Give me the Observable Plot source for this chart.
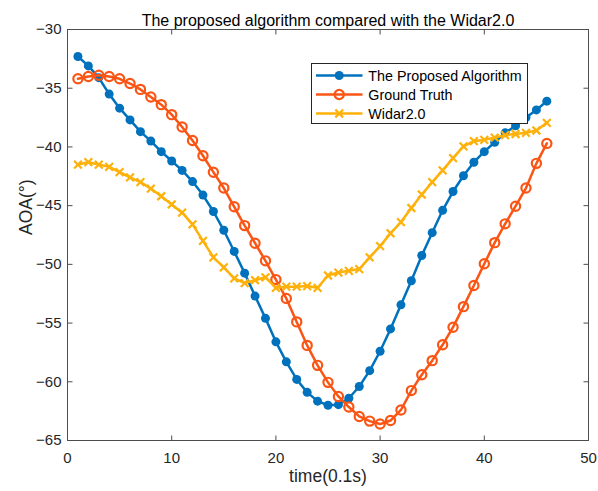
<!DOCTYPE html>
<html>
<head>
<meta charset="utf-8">
<script src="https://cdn.jsdelivr.net/npm/d3@7"></script>
<script src="https://cdn.jsdelivr.net/npm/@observablehq/plot@0.6"></script>
<style>
  body { margin: 0; background: #fff; }
  #chart { position: relative; width: 598px; height: 491px; }
</style>
</head>
<body>
<div id="chart"></div>
<script>
// Sample index (units of 0.1 s)
const time = [1, 2, 3, 4, 5, 6, 7, 8, 9, 10, 11, 12, 13, 14, 15, 16, 17, 18, 19, 20, 21, 22, 23,
              24, 25, 26, 27, 28, 29, 30, 31, 32, 33, 34, 35, 36, 37, 38, 39, 40, 41, 42, 43, 44, 45, 46];

// AOA estimates in degrees
const proposed = [-32.3, -33.1, -34.1, -35.5, -36.7, -37.7, -38.7, -39.5, -40.4, -41.2, -42.0, -42.95,
                  -44.1, -45.5, -47.1, -48.9, -50.75, -52.7, -54.6, -56.6, -58.3, -59.8, -60.9, -61.65,
                  -62.0, -61.95, -61.4, -60.4, -59.05, -57.4, -55.5, -53.45, -51.4, -49.25, -47.3, -45.4,
                  -43.8, -42.45, -41.3, -40.4, -39.6, -38.8, -38.2, -37.5, -36.85, -36.1];
const groundTruth = [-34.2, -34.0, -33.9, -34.0, -34.2, -34.6, -35.1, -35.75, -36.4, -37.25, -38.3, -39.45,
                     -40.75, -42.15, -43.5, -45.1, -46.7, -48.2, -49.7, -51.3, -52.9, -54.9, -56.9, -58.6,
                     -60.05, -61.25, -62.15, -62.95, -63.35, -63.6, -63.3, -62.4, -60.75, -59.4, -58.2, -56.85,
                     -55.35, -53.6, -51.8, -49.95, -48.15, -46.55, -45.05, -43.5, -41.4, -39.7];
const widar = [-41.5, -41.3, -41.5, -41.7, -42.15, -42.6, -43.0, -43.55, -44.2, -44.9, -45.6, -46.6,
               -48.0, -49.4, -50.25, -51.2, -51.6, -51.35, -51.1, -52.0, -51.9, -51.9, -51.85, -52.0,
               -50.95, -50.7, -50.55, -50.4, -49.4, -48.45, -47.35, -46.4, -45.2, -44.05, -43.0, -42.0,
               -40.95, -39.95, -39.5, -39.4, -39.2, -39.0, -38.9, -38.8, -38.6, -37.95];

const seriesNames = ["The Proposed Algorithm", "Ground Truth", "Widar2.0"];
const xTicks = [0, 10, 20, 30, 40, 50];
const yTicks = [-65, -60, -55, -50, -45, -40, -35, -30];
const title = "The proposed algorithm compared with the Widar2.0";
const xLabel = "time(0.1s)";
const yLabel = "AOA(°)";

const colors = ["#0072BD", "#FA5514", "#FDB10A"];
const axisColor = "#4d4d4d";
const textColor = "#262626";
const font = "'Liberation Sans', Arial, Helvetica, sans-serif";

const rows = values => time.map((t, i) => ({t, v: values[i]}));
const pData = rows(proposed);
const gData = rows(groundTruth);
const wData = rows(widar);

// short inward tick segments drawn as custom dot symbols
const TICK = 5;
const tickSymbol = (dx, dy) => ({draw(ctx) { ctx.moveTo(0, 0); ctx.lineTo(dx * TICK, dy * TICK); }});
const tickUp = tickSymbol(0, -1), tickDown = tickSymbol(0, 1);
const tickRight = tickSymbol(1, 0), tickLeft = tickSymbol(-1, 0);
const innerX = xTicks.slice(1, -1), innerY = yTicks.slice(1, -1);

const plot = Plot.plot({
  width: 598,
  height: 491,
  marginLeft: 67,
  marginRight: 10,
  marginTop: 29,
  marginBottom: 51,
  style: {fontFamily: font, background: "#fff", color: textColor},
  x: {domain: [0, 50]},
  y: {domain: [-65, -30]},
  marks: [
    // tick labels
    Plot.axisX(xTicks, {anchor: "bottom", tickSize: 0, tickPadding: 12, fontSize: 15, fill: textColor, label: null}),
    Plot.axisY(yTicks, {anchor: "left", tickSize: 0, tickPadding: 6, fontSize: 15, fill: textColor, label: null}),
    // inward ticks on all four sides
    Plot.dot(innerX, {x: d => d, frameAnchor: "bottom", symbol: tickUp, stroke: axisColor, strokeWidth: 1}),
    Plot.dot(innerX, {x: d => d, frameAnchor: "top", symbol: tickDown, stroke: axisColor, strokeWidth: 1}),
    Plot.dot(innerY, {y: d => d, frameAnchor: "left", symbol: tickRight, stroke: axisColor, strokeWidth: 1}),
    Plot.dot(innerY, {y: d => d, frameAnchor: "right", symbol: tickLeft, stroke: axisColor, strokeWidth: 1}),
    Plot.frame({stroke: axisColor}),

    // proposed algorithm: solid line with filled circles
    Plot.lineY(pData, {x: "t", y: "v", stroke: colors[0], strokeWidth: 2.5}),
    Plot.dot(pData, {x: "t", y: "v", fill: colors[0], r: 4.5}),

    // ground truth: solid line with open circles
    Plot.lineY(gData, {x: "t", y: "v", stroke: colors[1], strokeWidth: 2.5}),
    Plot.dot(gData, {x: "t", y: "v", stroke: colors[1], fill: "none", strokeWidth: 2.2, r: 4.6}),

    // Widar2.0: solid line with x markers
    Plot.lineY(wData, {x: "t", y: "v", stroke: colors[2], strokeWidth: 2.5}),
    Plot.dot(wData, {x: "t", y: "v", symbol: "times", stroke: colors[2], strokeWidth: 2.2, r: 3.6}),

    // title and axis labels
    Plot.text([title], {frameAnchor: "top", lineAnchor: "middle", dy: -9, fontSize: 16, fill: "#000"}),
    Plot.text([xLabel], {frameAnchor: "bottom", lineAnchor: "middle", dy: 36, fontSize: 17.5, fill: textColor}),
    Plot.text([yLabel], {frameAnchor: "left", lineAnchor: "middle", dx: -41, rotate: -90, fontSize: 17.5, fill: textColor})
  ]
});

// legend box in the upper middle of the axes
const svg = d3.select(plot);
const legend = svg.append("g").attr("transform", "translate(311.5,63.5)");
legend.append("rect")
  .attr("width", 216).attr("height", 60)
  .attr("fill", "#fff").attr("stroke", "#262626").attr("stroke-width", 1);
seriesNames.forEach((name, i) => {
  const row = legend.append("g").attr("transform", `translate(0,${12 + 19 * i})`);
  row.append("line")
    .attr("x1", 4.5).attr("x2", 51)
    .attr("stroke", colors[i]).attr("stroke-width", 2.5);
  const m = row.append("g").attr("transform", "translate(27.7,0)");
  if (i === 0) {
    m.append("circle").attr("r", 4.5).attr("fill", colors[0]);
  } else if (i === 1) {
    m.append("circle").attr("r", 4.6).attr("fill", "none").attr("stroke", colors[1]).attr("stroke-width", 2.2);
  } else {
    m.append("path").attr("d", d3.symbol(d3.symbolTimes, Math.PI * 3.6 * 3.6)())
      .attr("fill", "none").attr("stroke", colors[2]).attr("stroke-width", 2.2);
  }
  row.append("text")
    .attr("x", 56.8).attr("dy", "0.35em")
    .attr("text-anchor", "start")
    .attr("font-family", font).attr("font-size", 14.3).attr("fill", "#000")
    .text(name);
});

document.getElementById("chart").appendChild(plot);
</script>
</body>
</html>
